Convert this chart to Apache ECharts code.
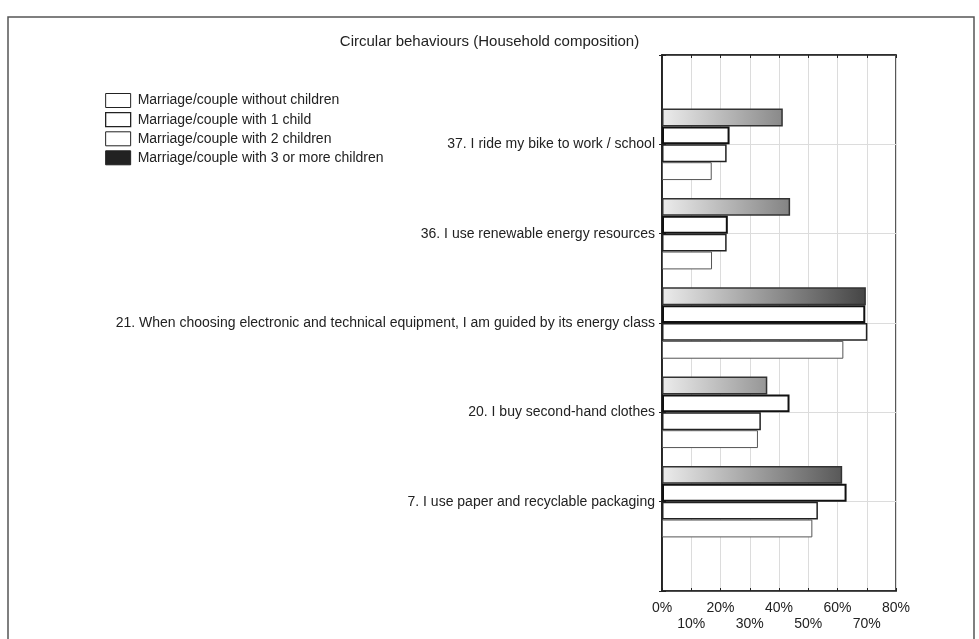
<!DOCTYPE html>
<html>
<head>
<meta charset="utf-8">
<script src="https://cdn.jsdelivr.net/npm/echarts@6/dist/echarts.min.js"></script>
<style>
html,body{margin:0;padding:0;background:#fff;}
#chart{width:979px;height:639px;}
</style>
</head>
<body>
<div id="chart"></div>
<script>
const categories = [
  '37. I ride my bike to work / school',
  '36. I use renewable energy resources',
  '21. When choosing electronic and technical equipment, I am guided by its energy class',
  '20. I buy second-hand clothes',
  '7. I use paper and recyclable packaging'
];
const seriesNames = [
  'Marriage/couple without children',
  'Marriage/couple with 1 child',
  'Marriage/couple with 2 children',
  'Marriage/couple with 3 or more children'
];
const withoutChildren = [17.0, 17.1, 62.0, 32.8, 51.4];
const oneChild = [22.1, 22.1, 70.2, 33.8, 53.3];
const twoChildren = [23.1, 22.5, 69.5, 43.6, 63.1];
const threePlus = [41.3, 43.8, 69.7, 36.0, 61.6];
const xTicks = [0, 10, 20, 30, 40, 50, 60, 70, 80];

const font = 'Liberation Sans, Arial, sans-serif';
const yData = [''].concat(categories, ['']);
function pad(arr){ return ['-'].concat(arr, ['-']); }

const chart = echarts.init(document.getElementById('chart'), null, {renderer:'canvas'});
const styles = [
  {color:'#fff', borderColor:'#555', borderWidth:1},
  {color:'#fff', borderColor:'#222', borderWidth:1.5},
  {color:'#fff', borderColor:'#111', borderWidth:2},
  {color:new echarts.graphic.LinearGradient(662,0,896,0,[{offset:0,color:'#ececec'},{offset:1,color:'#2c2c2c'}],true), borderColor:'#333', borderWidth:1.5}
];
const dataSets = [withoutChildren, oneChild, twoChildren, threePlus];
// ECharts places series top-to-bottom within a category; reference shows 3+ on top
const order = [3, 2, 1, 0];
const series = order.map((i)=>({
  name: seriesNames[i],
  type:'bar',
  data: pad(dataSets[i]),
  barGap: '0%',
  barCategoryGap: '20%',
  itemStyle: styles[i],
  emphasis:{disabled:true},
  animation:false
}));

chart.setOption({
  animation:false,
  title:{text:'Circular behaviours (Household composition)', left:'center', top:29,
    textStyle:{fontFamily:font, fontSize:15, fontWeight:'normal', color:'#222'}},
  legend:{
    orient:'vertical', left:100, top:88, itemWidth:25, itemHeight:14, itemGap:4,
    textStyle:{fontFamily:font, fontSize:14, color:'#222', padding:[0,0,0,2]},
    selectedMode:false,
    data:[
      {name:seriesNames[0], icon:'rect', itemStyle:{color:'#fff', borderColor:'#222', borderWidth:1}},
      {name:seriesNames[1], icon:'rect', itemStyle:{color:'#fff', borderColor:'#222', borderWidth:1.3}},
      {name:seriesNames[2], icon:'rect', itemStyle:{color:'#fff', borderColor:'#222', borderWidth:1}},
      {name:seriesNames[3], icon:'rect', itemStyle:{color:'#222', borderColor:'#222', borderWidth:1}}
    ]
  },
  grid:{left:662, right:83, top:55, bottom:48, show:true, borderColor:'#222', borderWidth:1.5},
  xAxis:[{
    type:'value', min:xTicks[0], max:xTicks[xTicks.length-1], interval:10,
    axisLine:{show:true, lineStyle:{color:'#222', width:1.5}},
    axisTick:{show:true, inside:true, length:3, lineStyle:{color:'#222'}},
    splitLine:{show:true, lineStyle:{color:'#dcdcdc', width:1}},
    axisLabel:{fontFamily:font, fontSize:14, color:'#222', margin:9, lineHeight:16,
      formatter:(v)=>{ const i = xTicks.indexOf(v); return (i%2===1 ? '\n' : '') + v + '%'; }}
  },{
    type:'value', position:'top', min:xTicks[0], max:xTicks[xTicks.length-1], interval:10,
    axisLine:{show:true, lineStyle:{color:'#222', width:1.5}},
    axisTick:{show:true, inside:true, length:3, lineStyle:{color:'#222'}},
    splitLine:{show:false}, axisLabel:{show:false}
  }],
  yAxis:[{
    type:'category', data:yData, inverse:true, boundaryGap:false,
    axisLine:{show:true, lineStyle:{color:'#222', width:1.5}},
    axisTick:{show:true, inside:true, length:4, lineStyle:{color:'#222'}},
    splitLine:{show:true, lineStyle:{color:'#dcdcdc', width:1}},
    axisLabel:{fontFamily:font, fontSize:14, color:'#222', margin:7}
  },{
    type:'category', data:yData, inverse:true, boundaryGap:false, position:'right',
    axisLine:{show:true, lineStyle:{color:'#222', width:1.5}},
    axisTick:{show:true, inside:true, length:3, lineStyle:{color:'#222'}},
    splitLine:{show:false}, axisLabel:{show:false}
  }],
  series: series,
  graphic:[{
    type:'rect', shape:{x:8, y:17, width:966, height:660}, silent:true,
    style:{fill:'none', stroke:'#555', lineWidth:1.5}
  }]
});
</script>
</body>
</html>
